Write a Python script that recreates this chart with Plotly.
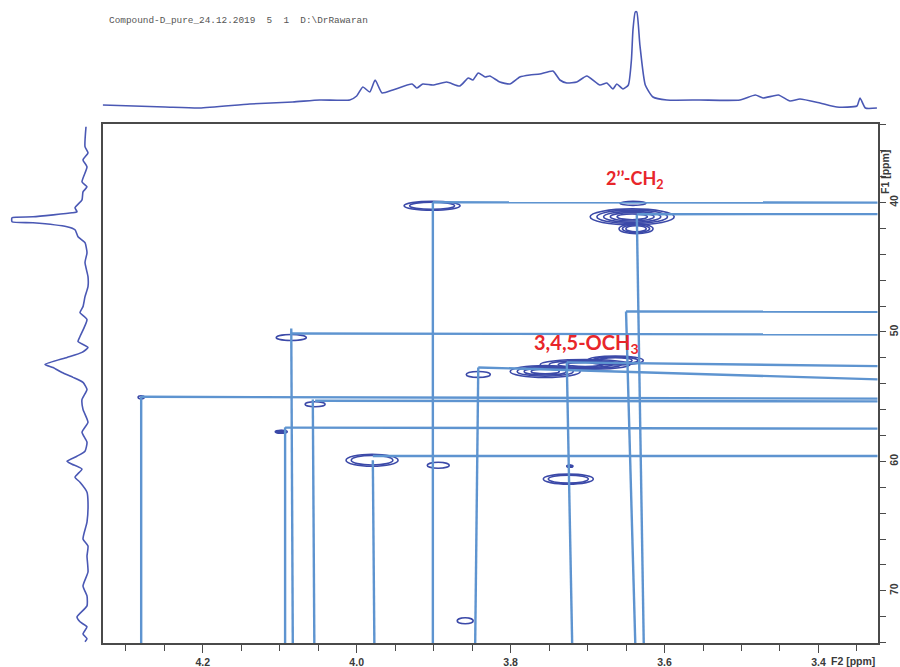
import plotly.graph_objects as go

# ---------------- data ----------------
# 1H projection (top trace): F2 ppm vs intensity (arb.)
top_f2 = [4.330, 4.249, 4.204, 4.139, 4.083, 4.048, 4.009, 4.000, 3.992, 3.983,
          3.976, 3.967, 3.953, 3.928, 3.922, 3.914, 3.901, 3.883, 3.866, 3.855,
          3.849, 3.842, 3.833, 3.827, 3.814, 3.801, 3.788, 3.775, 3.762, 3.745,
          3.736, 3.727, 3.714, 3.701, 3.684, 3.675, 3.667, 3.662, 3.654, 3.647,
          3.643, 3.641, 3.638, 3.636, 3.632, 3.625, 3.615, 3.597, 3.554, 3.502,
          3.482, 3.472, 3.452, 3.437, 3.424, 3.398, 3.376, 3.350, 3.346, 3.339,
          3.324]
top_int = [5, 3, 2, 6, 8, 10, 10, 14, 23, 18,
           30, 17, 20, 26, 22, 26, 25, 28, 24, 32,
           30, 37, 33, 34, 28, 26, 33, 35, 36, 39,
           30, 27, 28, 34, 25, 27, 21, 26, 21, 25,
           50, 80, 98, 98, 65, 25, 13, 10, 10, 10,
           15, 12, 15, 9, 11, 7, 3, 4, 12, 2,
           2]

# 13C projection (left trace): F1 ppm vs intensity (arb.)
left_f1 = [34.14, 35.68, 36.16, 36.70, 37.24, 38.40, 38.78, 39.17, 39.79, 40.40,
           40.71, 40.79, 41.10, 41.17, 41.48, 41.56, 41.87, 42.10, 42.64, 43.10,
           43.87, 44.64, 45.72, 46.49, 47.27, 48.04, 48.50, 49.04, 50.35, 50.74,
           51.20, 51.58, 51.97, 52.51, 52.74, 53.13, 53.51, 53.90, 54.44,
           55.21, 55.98, 56.98, 57.75, 58.52, 59.22, 59.60, 59.99, 60.22, 60.60,
           61.22, 61.61, 62.38, 63.15, 64.69, 66.00, 66.54, 67.31, 68.55, 69.63,
           70.40, 71.17, 72.02, 72.40, 72.79, 73.33, 73.71, 73.94]
left_int = [14, 15, 12, 17, 13, 18, 13, 17, 18, 25,
            23, 28, 67, 88, 88, 67, 33, 25, 22, 15,
            13, 15, 12, 12, 15, 17, 20, 13, 20, 22,
            12, 18, 33, 55, 47, 38, 27, 17, 13,
            18, 17, 12, 18, 13, 15, 23, 33, 28, 18,
            25, 20, 13, 12, 13, 17, 12, 13, 12, 17,
            13, 13, 23, 20, 13, 17, 13, 15]

# HSQC cross peaks: centre (F2, F1), half widths, number of contour rings
peak_f2 = [3.902, 3.641, 3.642, 3.637, 4.085, 3.842, 3.755, 3.703, 3.664,
           4.054, 4.280, 4.098, 3.980, 3.894, 3.725, 3.723, 3.859]
peak_f1 = [40.25, 40.06, 41.10, 42.02, 50.43, 53.28, 53.05, 52.51, 52.20,
           55.59, 55.05, 57.71, 59.91, 60.30, 61.37, 60.37, 72.32]
peak_hw = [0.0364, 0.0169, 0.0546, 0.0221, 0.0195, 0.0156, 0.0455, 0.0585, 0.0364,
           0.0130, 0.0040, 0.0078, 0.0338, 0.0143, 0.0325, 0.0040, 0.0104]
peak_hh = [0.347, 0.154, 0.617, 0.386, 0.231, 0.231, 0.463, 0.386, 0.347,
           0.193, 0.120, 0.116, 0.463, 0.231, 0.386, 0.080, 0.231]
peak_rings = [2, 1, 5, 3, 1, 1, 4, 4, 3, 1, 1, 3, 2, 1, 2, 3, 1]

# correlation guide lines: vertical (to F2 axis) and horizontal (to F1 axis)
v_f2_start = [4.280, 4.093, 4.085, 4.057, 3.979, 3.901, 3.842, 3.727, 3.650, 3.636]
v_f1_start = [54.98, 57.37, 49.73, 55.21, 59.91, 39.98, 52.74, 52.35, 48.42, 40.94]
v_f2_end = [4.280, 4.093, 4.083, 4.055, 3.977, 3.901, 3.846, 3.720, 3.638, 3.627]

h_f2_start = [3.901, 3.636, 3.650, 4.085, 3.842, 3.727, 4.280, 4.054, 4.093, 3.979]
h_f1_start = [39.98, 40.90, 48.42, 50.12, 52.74, 52.35, 55.01, 55.32, 57.39, 59.58]
h_f1_end = [40.00, 40.89, 48.44, 50.20, 53.66, 52.64, 55.15, 55.36, 57.47, 59.58]

labels = ["2’’-CH<sub>2</sub>", "3,4,5-OCH<sub>3</sub>"]
label_f2 = [3.638, 3.702]
label_f1 = [38.24, 50.89]
label_size = [18, 20]

x_tick_vals = [4.2, 4.0, 3.8, 3.6, 3.4]
x_tick_text = ["4.2", "4.0", "3.8", "3.6", "3.4"]
y_tick_vals = [40, 50, 60, 70]
y_tick_text = ["40", "50", "60", "70"]

# ---------------- figure ----------------
W, H = 900, 667
X_RANGE = [4.330, 3.323]
Y_RANGE = [74.06, 33.95]

SPEC = "#4a58b4"
CONT = "#3b49a8"
GUIDE = "#5e94d0"
AX = "#4a4a4a"

def px(xp):
    return xp / W

def py(yp):
    return 1 - yp / H

main_x_dom = [px(102.7), px(877.7)]
main_y_dom = [py(643.3), py(124.3)]

fig = go.Figure()

# guide lines
for a, b, c in zip(v_f2_start, v_f1_start, v_f2_end):
    fig.add_trace(go.Scatter(x=[a, c], y=[b, Y_RANGE[0]], mode="lines",
                             line=dict(color=GUIDE, width=2.4),
                             hoverinfo="skip", showlegend=False, cliponaxis=True))
for a, b, c in zip(h_f2_start, h_f1_start, h_f1_end):
    fig.add_trace(go.Scatter(x=[a, X_RANGE[1]], y=[b, c], mode="lines",
                             line=dict(color=GUIDE, width=2.4),
                             hoverinfo="skip", showlegend=False, cliponaxis=True))

# cross-peak contours as ellipse shapes (below traces)
for f2, f1, hw, hh, n in zip(peak_f2, peak_f1, peak_hw, peak_hh, peak_rings):
    for k in range(n):
        s = 1.0 - (0.8 / max(n, 4)) * k
        fig.add_shape(type="circle", xref="x", yref="y", layer="below",
                      x0=f2 - hw * s, x1=f2 + hw * s,
                      y0=f1 - hh * s, y1=f1 + hh * s,
                      line=dict(color=CONT, width=1.6))

# top 1H projection
fig.add_trace(go.Scatter(x=top_f2, y=top_int, mode="lines", xaxis="x2", yaxis="y2",
                         line=dict(color=SPEC, width=1.6, shape="spline", smoothing=0.5),
                         hoverinfo="skip", showlegend=False))
# left 13C projection
fig.add_trace(go.Scatter(x=left_int, y=left_f1, mode="lines", xaxis="x3", yaxis="y",
                         line=dict(color=SPEC, width=1.6, shape="spline", smoothing=0.5),
                         hoverinfo="skip", showlegend=False))

for t, a, b, s in zip(labels, label_f2, label_f1, label_size):
    fig.add_annotation(x=a, y=b, xref="x", yref="y", text="<b>" + t + "</b>",
                       showarrow=False, font=dict(family="Lato", size=s, color="#e8262a"))

fig.add_annotation(x=px(107), y=py(21), xref="paper", yref="paper", xanchor="left",
                   yanchor="middle", showarrow=False,
                   text="Compound-D_pure_24.12.2019  5  1  D:\\DrRawaran",
                   font=dict(family="Liberation Mono", size=9.4, color="#555555"))
fig.add_annotation(x=px(829), y=py(661), xref="paper", yref="paper", showarrow=False,
                   xanchor="left", yanchor="middle",
                   text="F2 [ppm]", font=dict(family="Liberation Sans", size=10.5,
                                               color="#3a3a3a", weight="bold"))
fig.add_annotation(x=px(893), y=py(148), xref="paper", yref="paper", showarrow=False,
                   text="F1 [ppm]", textangle=-90,
                   font=dict(family="Liberation Sans", size=10.5, color="#3a3a3a",
                             weight="bold"))

tickfont = dict(family="Liberation Sans", size=10.5, color="#3a3a3a", weight="bold")

fig.update_layout(
    width=W, height=H, margin=dict(l=0, r=0, t=0, b=0),
    paper_bgcolor="white", plot_bgcolor="rgba(0,0,0,0)",
    showlegend=False,
    xaxis=dict(domain=main_x_dom, range=X_RANGE, anchor="y", automargin=False,
               showline=True, linecolor=AX, linewidth=1.6, mirror=True,
               showgrid=False, zeroline=False,
               tickmode="array", tickvals=x_tick_vals, ticktext=x_tick_text,
               ticks="outside", ticklen=8, tickwidth=1.4, tickcolor=AX,
               tickfont=tickfont,
               minor=dict(tickmode="linear", tick0=3.3, dtick=0.05, ticks="outside",
                          ticklen=6, tickwidth=1.4, tickcolor=AX, showgrid=False)),
    yaxis=dict(domain=main_y_dom, range=Y_RANGE, anchor="x", side="right",
               automargin=False, showline=True, linecolor=AX, linewidth=1.6,
               mirror=True, showgrid=False, zeroline=False,
               tickmode="array", tickvals=y_tick_vals, ticktext=y_tick_text,
               tickangle=-90, ticks="outside", ticklen=6, tickwidth=1.4,
               tickcolor=AX, tickfont=tickfont,
               minor=dict(tickmode="linear", tick0=34, dtick=2, ticks="outside",
                          ticklen=6, tickwidth=1.4, tickcolor=AX, showgrid=False)),
    xaxis2=dict(domain=main_x_dom, range=X_RANGE, anchor="y2", visible=False),
    yaxis2=dict(domain=[py(115), 1.0], range=[-5, 110], anchor="x2", visible=False),
    xaxis3=dict(domain=[0, px(102)], range=[100, -2], anchor="y", visible=False),
)

fig.write_html("out.html")
